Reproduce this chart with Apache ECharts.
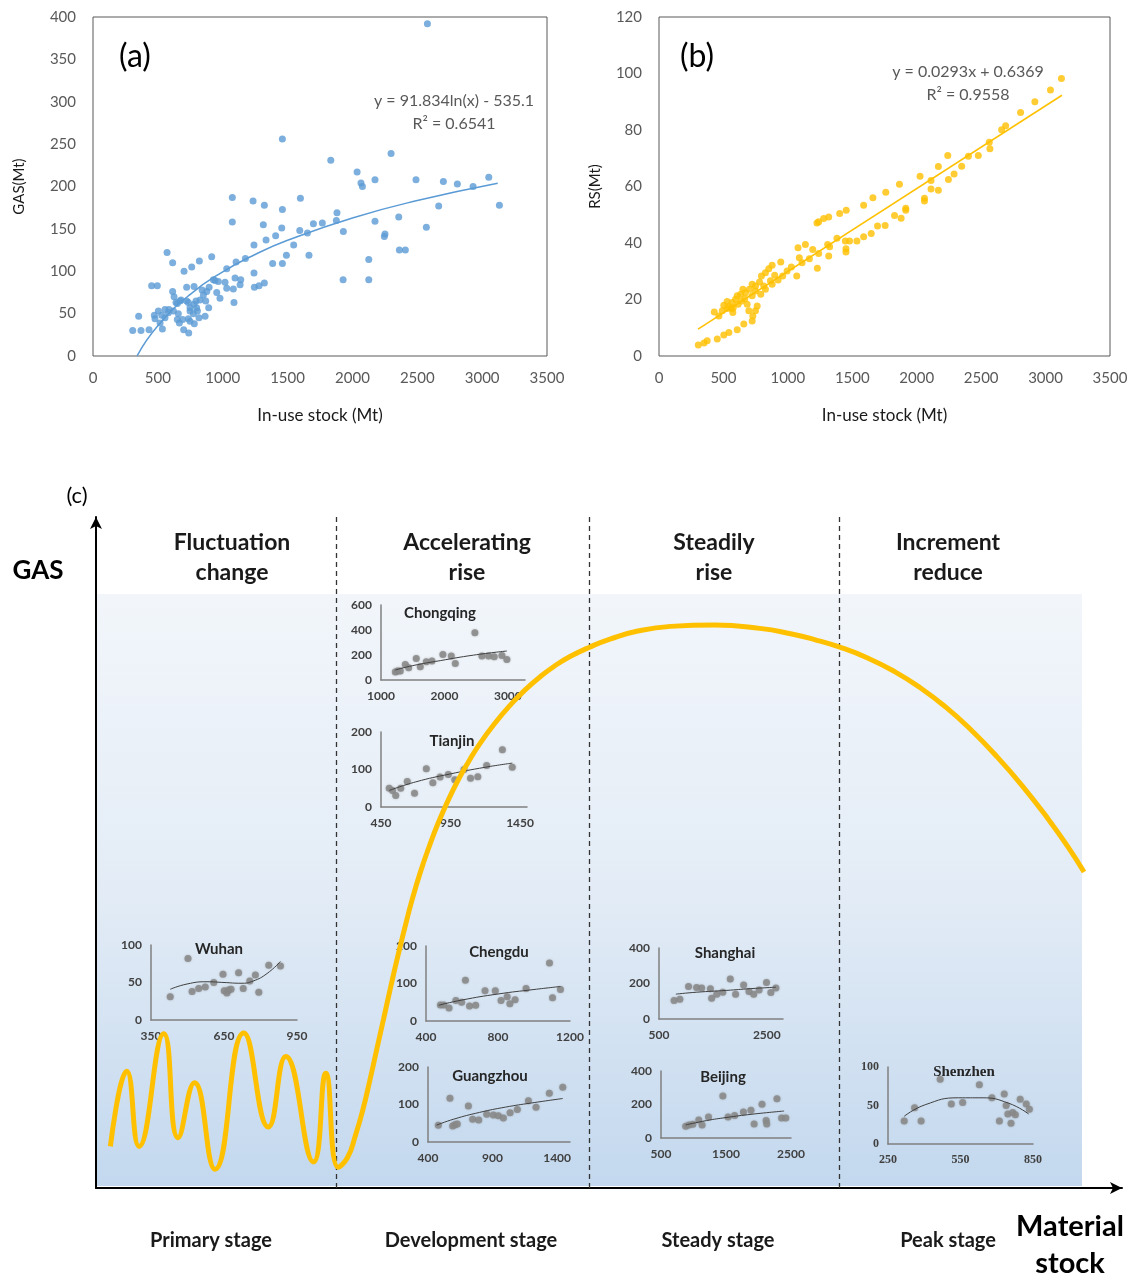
<!DOCTYPE html>
<html><head><meta charset="utf-8">
<script src="https://cdn.jsdelivr.net/npm/echarts/dist/echarts.min.js"></script>
<style>html,body{margin:0;padding:0;background:#fff}#c{width:1134px;height:1275px}</style>
</head><body><div id="c"></div>
<script>
// ---------------- DATA ----------------
// Panel (a): GAS vs in-use stock
const aStock = [2578,1460,1833,2298,2036,2174,2490,2701,2809,2930,3051,3133,2066,2077,1074,1234,1321,1460,1599,2665,1074,1313,1455,1594,1653,1699,1768,1881,1876,1930,2174,2357,2570,2251,2246,2362,2408,2126,1928,2126,1408,1334,1547,1241,1491,1665,1385,1460,1175,1103,1241,1031,915,820,761,702,571,614,452,496,352,306,370,432,535,699,738,614,722,779,625,671,650,722,779,841,877,895,941,966,954,979,1018,1031,1082,1095,1139,1134,1244,1280,1321,1087,892,825,799,748,774,735,748,781,817,864,650,666,691,658,620,586,555,504,473,530,555,517,478,581,640,679,735,748,794,805,869,851,928];
const aGas = [392,256,231,239,217,208,208,206,203,200,211,178,204,200,187,183,178,173,186,177,158,155,151,148,145,156,157,169,160,147,159,164,152,144,141,125,125,114,90,90,142,137,131,131,119,119,109,109,115,111,98,103,117,112,105,100,122,110,83,83,47,30,30,31,32,31,27,76,81,82,70,65,62,65,61,78,76,81,89,88,75,68,87,80,79,92,90,84,81,83,86,63,57,66,57,53,50,44,41,38,45,47,43,39,43,50,53,55,55,53,48,48,45,39,44,51,63,66,63,57,65,53,65,72,90];
const aTrendStock = [340,500,750,1000,1250,1500,2000,2500,3120];
const aTrendGas = [0.2,35.6,72.8,99.3,119.8,136.5,162.9,183.4,203.8];

// Panel (b): RS vs in-use stock
const bStock = [3123,3038,2917,2806,2690,2659,2563,2568,2478,2401,2349,2290,2246,2241,2168,2168,2111,2111,2060,2060,2026,1915,1915,1879,1828,1866,1760,1660,1588,1453,1402,1317,1278,1239,1755,1696,1647,1588,1536,1479,1446,1451,1451,1381,1324,1309,1317,1239,1229,1193,1167,1136,1079,1089,1110,1069,1027,994,945,960,924,878,852,898,865,878,826,795,780,813,826,749,723,749,790,723,702,671,651,633,666,607,594,568,529,503,542,576,614,640,684,697,762,749,728,723,658,607,542,503,452,374,349,305,429,465,491,573,563,529,1226];
const bRS = [98.2,94.2,90.0,86.2,81.5,80.1,75.7,73.4,71.0,70.7,67.2,64.4,62.5,71.0,67.1,58.7,62.1,59.1,55.8,54.9,63.6,52.3,51.6,48.8,49.7,60.8,58.0,56.0,53.4,51.6,50.4,49.2,48.7,47.5,46.2,46.0,43.4,42.2,40.7,40.7,40.7,38.0,36.8,41.7,38.7,39.5,35.4,36.3,31.1,37.7,34.4,39.5,38.3,34.8,33.0,28.3,31.5,30.1,33.3,28.3,26.9,32.1,30.9,28.6,26.6,25.4,29.5,28.3,26.2,24.8,23.6,24.8,25.4,23.0,21.9,21.3,23.6,22.4,23.6,21.9,20.3,21.3,20.1,18.9,19.3,18.0,17.5,17.1,18.3,19.5,18.3,16.0,17.7,16.0,14.2,12.4,11.3,9.3,8.3,7.4,6.0,5.4,4.6,3.9,15.6,14.2,16.0,15.4,16.8,16.8,47.1];
const bTrendStock = [303,3127];
const bTrendRS = [9.5,92.3];

// Panel (c): conceptual GAS curve along material stock (0-100 units)
const cStock = [1.4,3.0,4.2,6.6,8.0,9.6,11.6,14.4,16.8,18.5,21.2,22.4,23.6,24.5,25.3,26.0,26.7,27.4,28.0,28.7,29.3,30.1,30.8,31.6,32.5,33.3,34.3,35.3,36.3,37.4,38.9,40.4,41.8,43.3,44.7,46.2,48.1,50.1,52.8,56.0,60.3,64.7,67.7,70.1,72.5,75.2,77.8,80.3,82.8,85.2,87.8,90.3,92.8,94.7,96.3];
const cGas   = [6.2,17.4,6.2,23.0,7.5,15.7,2.8,23.1,9.1,19.6,3.9,17.1,3.1,4.5,7.9,11.6,16.1,20.9,25.0,29.8,33.8,38.8,42.9,47.0,51.0,54.2,57.7,60.8,63.5,66.2,69.3,72.0,74.2,76.2,77.8,79.2,80.6,81.8,83.0,83.7,83.9,83.4,82.6,81.7,80.6,79.0,77.0,74.6,71.7,68.4,64.3,59.9,55.0,50.9,47.1];
const stageBounds = [23.4,48.05,72.4];
const stageTitles = ['Fluctuation\nchange','Accelerating\nrise','Steadily\nrise','Increment\nreduce'];
const stageNames = ['Primary stage','Development stage','Steady stage','Peak stage'];

// Insets (city scatter + trend)
const whX=[429,502,519,546,573,608,646,651,662,669,679,710,729,756,779,793,834,882];
const whY=[31,82,38,42,44,50,61,39,36,40,41,63,42,52,60,37,73,72];
const whTX=[429,498,580,650,720,770,827,882];
const whTY=[41,48,51,50,49,52,62,78];
const cqX=[1226,1262,1304,1383,1436,1556,1619,1714,1803,1976,2108,2171,2480,2591,2696,2785,2906,2984];
const cqY=[64,72,72,125,99,173,107,147,152,205,192,133,379,192,192,187,197,165];
const cqTX=[1226,1500,1934,2459,2984];
const cqTY=[80,115,155,199,232];
const tjX=[509,533,556,592,639,691,776,823,875,934,981,1047,1094,1146,1210,1323,1394];
const tjY=[50,44,31,50,68,37,102,65,80,87,73,100,77,81,111,153,106];
const tjTX=[509,700,946,1200,1394];
const tjTY=[44,67,88,106,117];
const cdX=[480,499,528,566,598,619,642,676,728,785,817,851,866,895,956,1086,1103,1147];
const cdY=[43,43,35,55,50,109,40,42,81,81,55,65,46,57,87,155,62,84];
const cdTX=[470,600,800,1000,1147];
const cdTY=[42,56,72,84,92];
const gzX=[480,570,591,609,627,713,746,793,855,906,945,984,1036,1092,1178,1237,1340,1444];
const gzY=[45,117,43,46,48,96,61,59,74,72,70,64,78,87,110,93,130,146];
const gzTX=[467,600,800,1000,1200,1444];
const gzTY=[45,61,79,93,104,116];
const shX=[780,887,1048,1197,1291,1453,1477,1571,1683,1822,1921,2070,2169,2257,2356,2494,2575,2668];
const shY=[104,111,183,177,174,170,117,140,151,226,140,192,155,140,164,206,149,174];
const shTX=[812,1200,1747,2200,2668];
const shTY=[140,151,161,171,179];
const bjX=[880,930,990,1081,1132,1231,1452,1532,1633,1768,1884,1933,2054,2118,2127,2284,2355,2420];
const bjY=[70,78,82,108,78,125,251,125,135,155,165,84,201,105,84,235,119,119];
const bjTX=[880,1200,1500,1900,2394];
const bjTY=[78,104,122,142,161];
const szX=[317,360,387,466,512,559,628,680,711,731,739,746,759,766,777,797,822,835];
const szY=[30,47,30,84,52,54,77,60,30,65,50,39,27,41,38,58,52,45];
const szTX=[317,404,542,639,749,832];
const szTY=[36,51,60,60,53,39];

// inset tick labels
const whTicksX=[350,650,950], whTicksY=[0,50,100];
const cqTicksX=[1000,2000,3000], cqTicksY=[0,200,400,600];
const tjTicksX=[450,950,1450], tjTicksY=[0,100,200];
const cdTicksX=[400,800,1200], cdTicksY=[0,100,200];
const gzTicksX=[400,900,1400], gzTicksY=[0,100,200];
const shTicksX=[500,2500], shTicksY=[0,200,400];
const bjTicksX=[500,1500,2500], bjTicksY=[0,200,400];
const szTicksX=[250,550,850], szTicksY=[0,50,100];

// ---------------- LAYOUT / STYLE ----------------
const SANS = 'Lato, "Open Sans", sans-serif';
const SERIF = '"Liberation Serif", serif';
const zip = (xs, ys) => xs.map((x, i) => [x, ys[i]]);

const insets = [
  {name:'Wuhan', x:whX, y:whY, tx:whTX, ty:whTY, tX:whTicksX, tY:whTicksY, xMax:950, yMax:100, box:[151,945,146,75], title:[219,949], font:SANS},
  {name:'Chongqing', x:cqX, y:cqY, tx:cqTX, ty:cqTY, tX:cqTicksX, tY:cqTicksY, xMax:3270, yMax:600, box:[381,605,144,75], title:[440,613], font:SANS},
  {name:'Tianjin', x:tjX, y:tjY, tx:tjTX, ty:tjTY, tX:tjTicksX, tY:tjTicksY, xMax:1500, yMax:200, box:[381,732,146,75], title:[452,741], font:SANS},
  {name:'Chengdu', x:cdX, y:cdY, tx:cdTX, ty:cdTY, tX:cdTicksX, tY:cdTicksY, xMax:1200, yMax:200, box:[426,946,144,75], title:[499,952], font:SANS},
  {name:'Guangzhou', x:gzX, y:gzY, tx:gzTX, ty:gzTY, tX:gzTicksX, tY:gzTicksY, xMax:1500, yMax:200, box:[428,1067,142,75], title:[490,1076], font:SANS},
  {name:'Shanghai', x:shX, y:shY, tx:shTX, ty:shTY, tX:shTicksX, tY:shTicksY, xMax:2800, yMax:400, box:[659,948,124,71], title:[725,953], font:SANS},
  {name:'Beijing', x:bjX, y:bjY, tx:bjTX, ty:bjTY, tX:bjTicksX, tY:bjTicksY, xMax:2500, yMax:400, box:[661,1071,130,67], title:[723,1077], font:SANS},
  {name:'Shenzhen', x:szX, y:szY, tx:szTX, ty:szTY, tX:szTicksX, tY:szTicksY, xMax:850, yMax:100, box:[888,1067,145,77], title:[964,1072], font:SERIF}
];

const grids = [], xAxes = [], yAxes = [], series = [], graphics = [];

function mainAxes(gi, xMax, xInt, yMax, yInt, yName, yGap) {
  const lab = {color:'#595959', fontSize:15, fontFamily:SANS, formatter: v => String(v)};
  xAxes.push({gridIndex:gi, type:'value', min:0, max:xMax, interval:xInt,
    axisLine:{show:false}, axisTick:{show:false}, splitLine:{show:false},
    axisLabel:Object.assign({margin:15}, lab),
    name:'In-use stock (Mt)', nameLocation:'middle', nameGap:51,
    nameTextStyle:{color:'#1a1a1a', fontSize:17, fontFamily:SANS}});
  yAxes.push({gridIndex:gi, type:'value', min:0, max:yMax, interval:yInt,
    axisLine:{show:false}, axisTick:{show:false}, splitLine:{show:false},
    axisLabel:Object.assign({margin:17}, lab),
    name:yName, nameLocation:'middle', nameGap:yGap, nameRotate:90,
    nameTextStyle:{color:'#1a1a1a', fontSize:15, fontFamily:SANS}});
}

// Panel (a)
grids.push({left:93, top:17, width:454, height:339, show:true, borderColor:'#595959', borderWidth:1, backgroundColor:'transparent'});
mainAxes(0, 3500, 500, 400, 50, 'GAS(Mt)', 66);
series.push({type:'scatter', xAxisIndex:0, yAxisIndex:0, data:zip(aStock, aGas), symbolSize:7, itemStyle:{color:'#5B9BD5'}, silent:true});
series.push({type:'line', xAxisIndex:0, yAxisIndex:0, data:zip(aTrendStock, aTrendGas), smooth:true, showSymbol:false, lineStyle:{color:'#5B9BD5', width:1.5}, silent:true});

// Panel (b)
grids.push({left:659, top:17, width:451, height:339, show:true, borderColor:'#595959', borderWidth:1, backgroundColor:'transparent'});
mainAxes(1, 3500, 500, 120, 20, 'RS(Mt)', 56);
series.push({type:'scatter', xAxisIndex:1, yAxisIndex:1, data:zip(bStock, bRS), symbolSize:7, itemStyle:{color:'#FFC000'}, silent:true});
series.push({type:'line', xAxisIndex:1, yAxisIndex:1, data:zip(bTrendStock, bTrendRS), showSymbol:false, lineStyle:{color:'#FFC000', width:1.5}, silent:true});

// Panel (c)
grids.push({left:96, top:517, width:1026, height:671});
const arrowAxis = {show:true, symbol:['none','arrow'], symbolSize:[9,12], lineStyle:{color:'#000', width:2}};
xAxes.push({gridIndex:2, type:'value', min:0, max:100, axisLine:arrowAxis, axisTick:{show:false}, axisLabel:{show:false}, splitLine:{show:false}});
yAxes.push({gridIndex:2, type:'value', min:0, max:100, axisLine:arrowAxis, axisTick:{show:false}, axisLabel:{show:false}, splitLine:{show:false}});
series.push({type:'line', xAxisIndex:2, yAxisIndex:2, data:zip(cStock, cGas), smooth:0.5, showSymbol:false, z:6,
  lineStyle:{color:'#FFC000', width:5}, silent:true,
  markLine:{silent:true, symbol:['none','none'], label:{show:false},
    lineStyle:{type:[5,4], color:'#333', width:1.3},
    data:stageBounds.map(v => ({xAxis:v}))}});

// Insets
insets.forEach((c, i) => {
  const gi = 3 + i;
  const [l, t, w, h] = c.box;
  grids.push({left:l, top:t, width:w, height:h});
  const lab = {fontFamily:c.font, fontWeight:'bold', fontSize:12, color:'#404040'};
  xAxes.push({gridIndex:gi, type:'value', min:c.tX[0], max:c.xMax, interval:c.tX[1]-c.tX[0],
    axisLine:{show:true, onZero:false, lineStyle:{color:'#808080', width:1.5}}, axisTick:{show:false}, splitLine:{show:false},
    axisLabel:Object.assign({margin:10, formatter:v => c.tX.includes(v) ? String(v) : ''}, lab)});
  yAxes.push({gridIndex:gi, type:'value', min:0, max:c.yMax, interval:c.tY[1]-c.tY[0],
    axisLine:{show:true, onZero:false, lineStyle:{color:'#808080', width:1.5}}, axisTick:{show:false}, splitLine:{show:false},
    axisLabel:Object.assign({margin:9, formatter:v => c.tY.includes(v) ? String(v) : ''}, lab)});
  series.push({type:'scatter', xAxisIndex:gi, yAxisIndex:gi, data:zip(c.x, c.y), symbolSize:7, silent:true,
    itemStyle:{color:'#8a8a8a', opacity:0.85, shadowBlur:2, shadowColor:'rgba(120,120,120,0.6)'}});
  series.push({type:'line', xAxisIndex:gi, yAxisIndex:gi, data:zip(c.tx, c.ty), smooth:true, showSymbol:false, silent:true,
    lineStyle:{color:'#404040', width:1}});
  graphics.push({type:'text', x:c.title[0], y:c.title[1], z:10, silent:true,
    style:{text:c.name, fill:'#262626', font:`bold 15px ${c.font}`, textAlign:'center', textVerticalAlign:'middle'}});
});

// background of panel (c)
graphics.push({type:'rect', shape:{x:96, y:594, width:986, height:592}, z:-10, silent:true,
  style:{fill:new echarts.graphic.LinearGradient(0,0,0,1,[
    {offset:0, color:'#f2f6fb'}, {offset:0.5, color:'#e3ecf6'}, {offset:1, color:'#c3d8ee'}])}});

function txt(s, x, y, font, fill, lh) {
  graphics.push({type:'text', x, y, z:10, silent:true,
    style:{text:s, font, fill:fill || '#000', textAlign:'center', textVerticalAlign:'middle', lineHeight:lh || 30}});
}
txt('(a)', 135, 57, `32px ${SANS}`);
txt('(b)', 697, 57, `32px ${SANS}`);
txt('y = 91.834ln(x) - 535.1', 454, 101, `16px ${SANS}`, '#595959');
txt('R² = 0.6541', 454, 124, `16px ${SANS}`, '#595959');
txt('y = 0.0293x + 0.6369', 968, 72, `16px ${SANS}`, '#595959');
txt('R² = 0.9558', 968, 95, `16px ${SANS}`, '#595959');
txt('(c)', 77, 496, `22px ${SANS}`);
txt('GAS', 38, 571, `bold 26px ${SANS}`);
const titleX = [232, 467, 714, 948];
stageTitles.forEach((s, i) => txt(s, titleX[i], 558, `bold 23px ${SANS}`, '#1a1a1a', 30));
const nameX = [211, 471, 718, 948];
stageNames.forEach((s, i) => txt(s, nameX[i], 1241, `bold 20px ${SANS}`, '#1a1a1a'));
txt('Material\nstock', 1070, 1245, `bold 29px ${SANS}`, '#000', 37);

const chart = echarts.init(document.getElementById('c'), null, {renderer:'canvas'});
chart.setOption({
  animation:false,
  backgroundColor:'#ffffff',
  grid:grids, xAxis:xAxes, yAxis:yAxes, series:series, graphic:graphics
});
</script></body></html>
